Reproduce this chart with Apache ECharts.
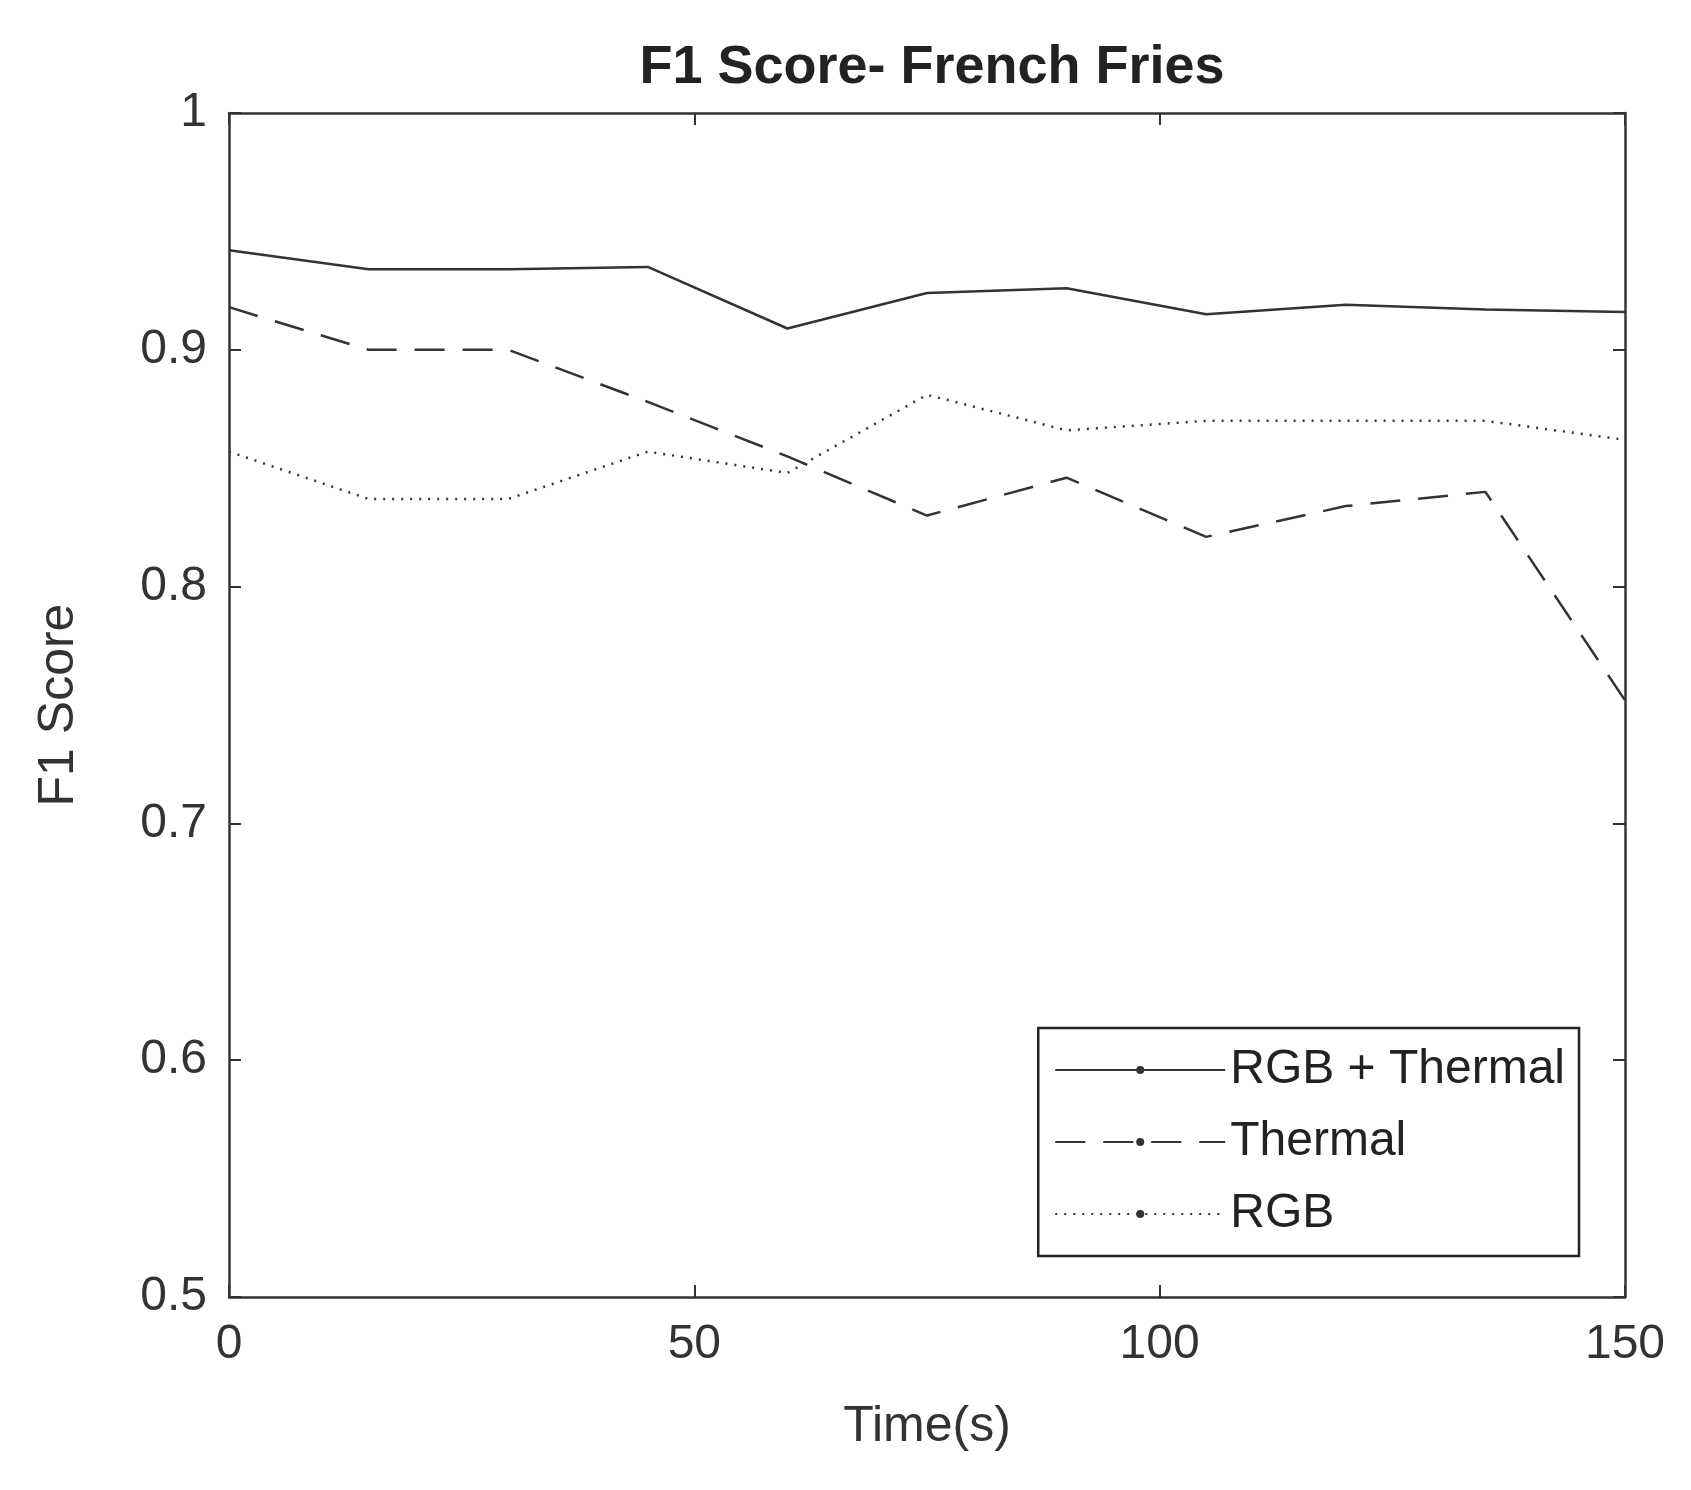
<!DOCTYPE html>
<html><head><meta charset="utf-8">
<script src="https://cdn.jsdelivr.net/npm/echarts@6/dist/echarts.min.js"></script>
<style>body{margin:0;background:#fff}#chart{width:1691px;height:1490px}</style>
</head><body><div id="chart"></div>
<script>
const times = [0, 15, 30, 45, 60, 75, 90, 105, 120, 135, 150];
const rgbThermal = [0.942, 0.934, 0.934, 0.935, 0.909, 0.924, 0.926, 0.915, 0.919, 0.917, 0.916];
const thermal = [0.918, 0.900, 0.900, 0.878, 0.855, 0.830, 0.846, 0.821, 0.834, 0.840, 0.752];
const rgb = [0.857, 0.837, 0.837, 0.857, 0.848, 0.881, 0.866, 0.870, 0.870, 0.870, 0.862];

const chart = echarts.init(document.getElementById("chart"));
const pair = (ys) => times.map((t, i) => [t, ys[i]]);
const font = "Arial, Liberation Sans, sans-serif";
const axisCommon = {
  axisLine: { show: true, onZero: false, lineStyle: { color: "#333", width: 2.5 } },
  axisTick: { show: true, inside: true, length: 12, lineStyle: { color: "#333", width: 2 } },
  splitLine: { show: false },
  axisLabel: { color: "#333", fontSize: 48, fontFamily: font },
  nameTextStyle: { color: "#333", fontSize: 50, fontFamily: font },
};
chart.setOption({
  animation: false,
  title: {
    text: "F1 Score- French Fries", left: 927, top: 36, textAlign: "center",
    textStyle: { fontSize: 54, fontWeight: "bold", color: "#222", fontFamily: font },
  },
  grid: { left: 229, right: 66, top: 113, bottom: 193 },
  xAxis: [
    { ...axisCommon, type: "value", min: 0, max: 150, interval: 50, name: "Time(s)",
      nameLocation: "middle", nameGap: 105, axisLabel: { ...axisCommon.axisLabel, margin: 24 } },
    { ...axisCommon, type: "value", min: 0, max: 150, interval: 50, position: "top",
      axisLabel: { show: false } },
  ],
  yAxis: [
    { ...axisCommon, type: "value", min: 0.5, max: 1, interval: 0.1, name: "F1 Score",
      nameLocation: "middle", nameGap: 145, axisLabel: { ...axisCommon.axisLabel, margin: 22,
      formatter: (v) => (v === 1 ? "1" : String(+v.toFixed(1))) } },
    { ...axisCommon, type: "value", min: 0.5, max: 1, interval: 0.1, position: "right",
      axisLabel: { show: false } },
  ],
  legend: {
    right: 112, top: 1028, orient: "vertical", itemWidth: 170, itemHeight: 10, itemGap: 24,
    padding: [18, 14, 18, 16], borderColor: "#222", borderWidth: 2.5, backgroundColor: "#fff",
    borderRadius: 0,
    textStyle: { fontSize: 48, color: "#222", fontFamily: font },
    data: ["RGB + Thermal", "Thermal", "RGB"],
  },
  series: [
    { name: "RGB + Thermal", type: "line", data: pair(rgbThermal), symbol: "none",
      lineStyle: { color: "#333", width: 2.5, type: "solid" }, itemStyle: { color: "#333" } },
    { name: "Thermal", type: "line", data: pair(thermal), symbol: "none",
      lineStyle: { color: "#333", width: 2.5, type: [30, 18] }, itemStyle: { color: "#333" } },
    { name: "RGB", type: "line", data: pair(rgb), symbol: "none",
      lineStyle: { color: "#333", width: 2.5, type: [2, 7] }, itemStyle: { color: "#333" } },
  ],
});
</script></body></html>
